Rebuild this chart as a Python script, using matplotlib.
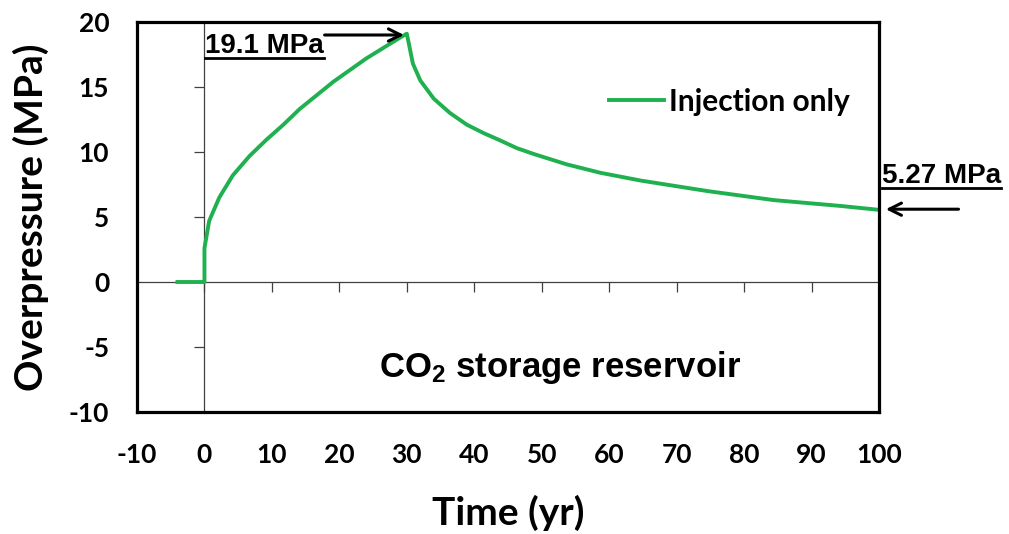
import matplotlib
matplotlib.use("Agg")
import matplotlib.pyplot as plt

plt.rcParams["axes.unicode_minus"] = False
plt.rcParams["mathtext.fontset"] = "custom"
plt.rcParams["mathtext.rm"] = "Liberation Sans:bold"
plt.rcParams["mathtext.default"] = "rm"

# data
t = [-4, 0, 0, 0.7, 2.2, 4.2, 6.7, 9.2, 11.7, 14.1, 19.1, 24, 29, 30,
     30.9, 32, 34, 36.4, 38.9, 41.4, 43.8, 46.3, 48.8, 53.7, 58.7, 64.7, 74.5, 84.4, 94.3, 100]
p = [0, 0, 2.6, 4.7, 6.5, 8.2, 9.7, 10.95, 12.1, 13.3, 15.4, 17.2, 18.8, 19.1,
     16.8, 15.5, 14.1, 13.0, 12.1, 11.45, 10.9, 10.3, 9.85, 9.05, 8.4, 7.8, 7.0, 6.3, 5.85, 5.55]
xticks = [-10, 0, 10, 20, 30, 40, 50, 60, 70, 80, 90, 100]
yticks = [-10, -5, 0, 5, 10, 15, 20]
peak_label = "19.1 MPa"
end_label = "5.27 MPa"
green = "#1fb04f"

fig = plt.figure(figsize=(10.09, 5.34), dpi=100)
pos = [137 / 1009, 1 - 412 / 534, 742 / 1009, 390 / 534]

# zero-crossing axes, drawn underneath
ax0 = fig.add_axes(pos)
ax0.set_zorder(1)
ax0.set_xlim(-10, 100)
ax0.set_ylim(-10, 20)
for s in ["top", "right"]:
    ax0.spines[s].set_visible(False)
ax0.spines["left"].set_position(("data", 0))
ax0.spines["bottom"].set_position(("data", 0))
for s in ["left", "bottom"]:
    ax0.spines[s].set_color("#404040")
    ax0.spines[s].set_linewidth(0.9)
ax0.set_xticks(xticks)
ax0.set_yticks(yticks)
ax0.tick_params(direction="out", length=7, width=0.9, color="#404040",
                labelbottom=False, labelleft=False)
ax0.patch.set_facecolor("white")

# main axes with frame, labels and curve
ax = fig.add_axes(pos)
ax.set_zorder(2)
ax.patch.set_visible(False)
ax.set_xlim(-10, 100)
ax.set_ylim(-10, 20)
for s in ax.spines.values():
    s.set_linewidth(2.3)
    s.set_color("black")
ax.set_xticks(xticks)
ax.set_yticks(yticks)
ax.tick_params(axis="x", length=0, pad=22)
ax.tick_params(axis="y", length=0, pad=20)
for lab in ax.get_xticklabels() + ax.get_yticklabels():
    lab.set_fontfamily("Lato")
    lab.set_fontweight("bold")
    lab.set_fontsize(19)

ax.set_xlabel("Time (yr)", fontfamily="Lato", fontweight="bold", fontsize=28, labelpad=20)
ax.set_ylabel("Overpressure (MPa)", fontfamily="Lato", fontweight="bold", fontsize=28, labelpad=14)

ax.plot(t, p, color=green, lw=2.8, label="Injection only", solid_joinstyle="round")

leg = ax.legend(loc="center left", bbox_to_anchor=(0.6, 0.795), frameon=False,
                handlelength=1.85, handletextpad=0.15,
                prop={"family": "Lato", "weight": "bold", "size": 21.5})

ax.text(560 / 1009, 1 - 368 / 534, "CO$_2$ storage reservoir", transform=fig.transFigure,
        ha="center", va="center", fontfamily="Liberation Sans", fontweight="bold", fontsize=25)

t1 = ax.text(0.1, 17.6, peak_label, ha="left", va="baseline", fontfamily="Liberation Sans",
             fontweight="bold", fontsize=20)
t2 = ax.text(100.5, 7.6, end_label, ha="left", va="baseline", fontfamily="Liberation Sans",
             fontweight="bold", fontsize=20, clip_on=False)

ax.annotate("", xy=(30, 19.0), xytext=(17.4, 19.0),
            arrowprops=dict(arrowstyle="->", lw=2.2, color="black", mutation_scale=22))
ax.annotate("", xy=(100.6, 5.6), xytext=(112.2, 5.6), annotation_clip=False,
            arrowprops=dict(arrowstyle="->", lw=2.2, color="black", mutation_scale=22))

# underline the two value labels
fig.canvas.draw()
r = fig.canvas.get_renderer()
inv = fig.transFigure.inverted()
for tx in [t1, t2]:
    bb = tx.get_window_extent(r)
    (x0, y0), (x1, y1) = inv.transform([(bb.x0, bb.y0), (bb.x1, bb.y0)])
    fig.add_artist(plt.Line2D([x0, x1], [y0 + 0.002, y0 + 0.002], transform=fig.transFigure,
                              color="black", lw=2))

fig.savefig("out.png", dpi=100)
